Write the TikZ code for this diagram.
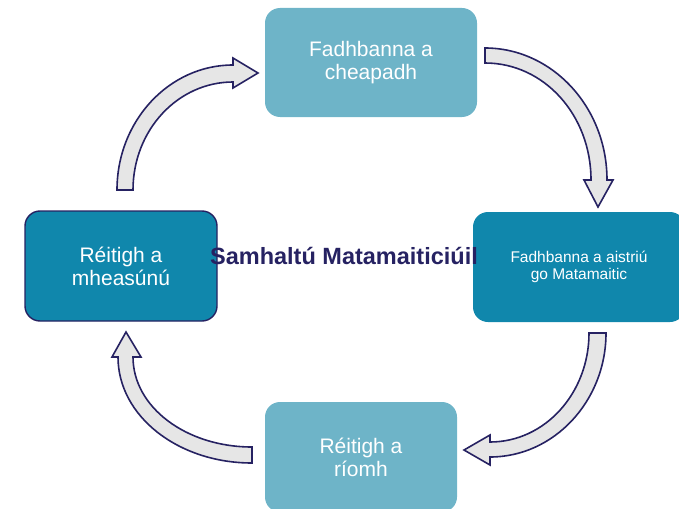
\documentclass[tikz,border=0pt]{standalone}
\usepackage{fontspec}
\setmainfont{Liberation Sans}
\usepackage{tikz}
\usetikzlibrary{positioning,calc}

\definecolor{lightteal}{RGB}{110,180,200}
\definecolor{darkteal}{RGB}{16,135,172}
\definecolor{navy}{RGB}{38,34,98}
\definecolor{arrowgray}{RGB}{230,230,230}

\begin{document}
\begin{tikzpicture}[
    x=1pt, y=-1pt,
    stage/.style={
        rounded corners=15pt,
        align=center,
        text=white,
        inner sep=0pt,
        font=\fontsize{21}{23}\selectfont
    },
    light/.style={stage, fill=lightteal, minimum height=110pt},
    dark/.style={stage, fill=darkteal, minimum height=110pt},
    bigarrow/.style={
        fill=arrowgray,
        draw=navy,
        line width=1.6pt,
        line join=miter
    }
]

\useasboundingbox (0,0) rectangle (679,508);
\clip (0,0) rectangle (679,508);

% the four stages
\node[light, minimum width=212pt, minimum height=109pt] (cheapadh) at (371,62.5) {Fadhbanna a\\cheapadh};
\node[dark, minimum width=212pt, font=\fontsize{15.5}{16.5}\selectfont] (aistriu) at (579,267) {Fadhbanna a aistriú\\go Matamaitic};
\node[light, minimum width=192pt] (riomh) at (361,457) {Réitigh a\\ríomh};
\node[dark, draw=navy, line width=1.4pt, minimum width=192pt] (measunu) at (121,266) {Réitigh a\\mheasúnú};

% curved block arrows between the stages
\draw[bigarrow] (117,190) .. controls (117,121) and (169,65) .. (233,65)
    -- (233,58) -- (258,73) -- (233,88) -- (233,82)
    .. controls (178,82) and (133,130) .. (133,190) -- cycle;
\draw[bigarrow] (485,48) .. controls (552,48) and (607,107) .. (607,180)
    -- (613,180) -- (598,207) -- (584,180) -- (591,180)
    .. controls (591,115) and (544,63) .. (485,63) -- cycle;
\draw[bigarrow] (606,333) .. controls (606,401) and (554,457) .. (490,457)
    -- (490,465) -- (464,450) -- (490,435) -- (490,442)
    .. controls (545,442) and (589,393) .. (589,333) -- cycle;
\draw[bigarrow] (252,463) .. controls (178,463) and (118,416) .. (118,357)
    -- (112,357) -- (126,332) -- (141,357) -- (133,357)
    .. controls (133,407) and (186,447) .. (252,447) -- cycle;

% title in the middle
\node[text=navy, font=\bfseries\fontsize{23.5}{26}\selectfont] (samhaltu) at (344,256) {Samhaltú Matamaiticiúil};

\end{tikzpicture}
\end{document}
